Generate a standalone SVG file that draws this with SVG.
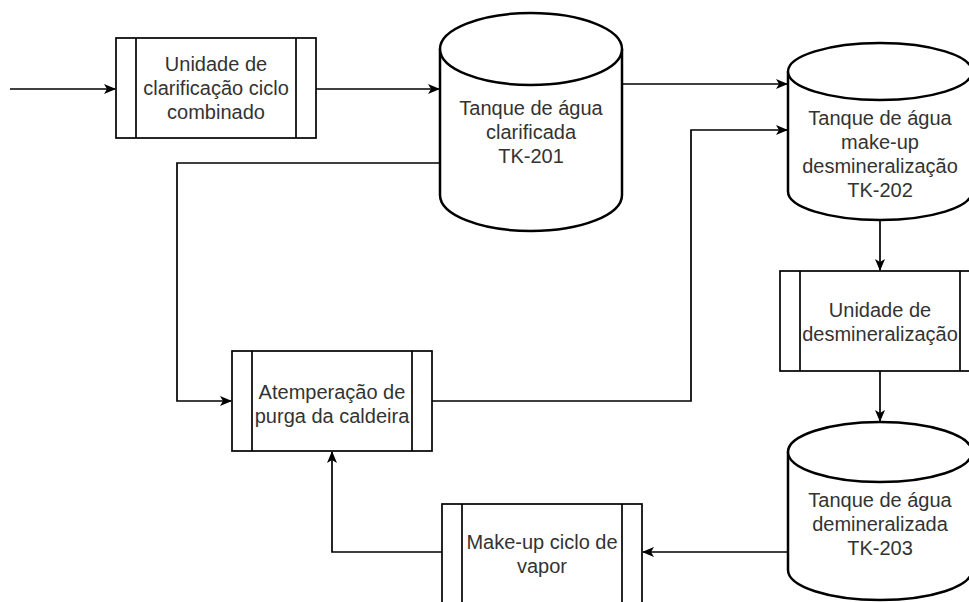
<svg xmlns="http://www.w3.org/2000/svg" width="969" height="602" viewBox="0 0 969 602">
<style>
.box{fill:#fff;stroke:#000;stroke-width:1.7}
.tank{fill:#fff;stroke:#000;stroke-width:2.5}
.t{font-family:"Liberation Sans",Arial,sans-serif;font-size:20px;fill:#333;text-anchor:middle}
.c{fill:none;stroke:#000;stroke-width:1.7;marker-end:url(#arr)}
</style>
<defs>
<marker id="arr" viewBox="0 0 12 12" refX="11" refY="6" markerWidth="12" markerHeight="12" markerUnits="userSpaceOnUse" orient="auto">
<path d="M0,1 L12,6 L0,11 L3,6 Z" fill="#000"/>
</marker>
</defs>
<rect width="969" height="602" fill="#fff"/>
<g id="connectors">
<path class="c" d="M10,89 H115"/>
<path class="c" d="M316,89 H439"/>
<path class="c" d="M622,84 H787"/>
<path class="c" d="M440,163 H177 V401 H231"/>
<path class="c" d="M432,401 H691 V130 H787"/>
<path class="c" d="M880,220 V270"/>
<path class="c" d="M880,371 V421"/>
<path class="c" d="M788,552 H643"/>
<path class="c" d="M442,552 H332 V452"/>
</g>
<g id="unidade-clarificacao">
<rect class="box" x="116" y="38" width="200" height="100"/>
<line class="box" x1="136" y1="38" x2="136" y2="138"/>
<line class="box" x1="296" y1="38" x2="296" y2="138"/>
<text class="t" x="216" y="71">Unidade de</text>
<text class="t" x="216" y="95">clarificação ciclo</text>
<text class="t" x="216" y="119">combinado</text>
</g>
<g id="tk201">
<path class="tank" d="M440,49 V195 A91,36 0 0 0 622,195 V49"/>
<path class="tank" d="M440,49 A91,36 0 0 1 622,49 A91,36 0 0 1 440,49 Z"/>
<text class="t" x="531" y="115">Tanque de água</text>
<text class="t" x="531" y="139">clarificada</text>
<text class="t" x="531" y="163">TK-201</text>
</g>
<g id="tk202">
<path class="tank" d="M788,71.5 V191.5 A92,28.5 0 0 0 972,191.5 V71.5"/>
<path class="tank" d="M788,71.5 A92,28.5 0 0 1 972,71.5 A92,28.5 0 0 1 788,71.5 Z"/>
<text class="t" x="880" y="125">Tanque de água</text>
<text class="t" x="880" y="149">make-up</text>
<text class="t" x="880" y="173">desmineralização</text>
<text class="t" x="880" y="197">TK-202</text>
</g>
<g id="unidade-desmineralizacao">
<rect class="box" x="780" y="271" width="200" height="100"/>
<line class="box" x1="800" y1="271" x2="800" y2="371"/>
<line class="box" x1="960" y1="271" x2="960" y2="371"/>
<text class="t" x="880" y="317">Unidade de</text>
<text class="t" x="880" y="341">desmineralização</text>
</g>
<g id="tk203">
<path class="tank" d="M788,452 V570 A92,30 0 0 0 972,570 V452"/>
<path class="tank" d="M788,452 A92,30 0 0 1 972,452 A92,30 0 0 1 788,452 Z"/>
<text class="t" x="880" y="507">Tanque de água</text>
<text class="t" x="880" y="531">demineralizada</text>
<text class="t" x="880" y="555">TK-203</text>
</g>
<g id="atemperacao">
<rect class="box" x="232" y="351" width="200" height="100"/>
<line class="box" x1="252" y1="351" x2="252" y2="451"/>
<line class="box" x1="412" y1="351" x2="412" y2="451"/>
<text class="t" x="332" y="399">Atemperação de</text>
<text class="t" x="332" y="423">purga da caldeira</text>
</g>
<g id="makeup-vapor">
<rect class="box" x="442" y="504" width="200" height="100"/>
<line class="box" x1="462" y1="504" x2="462" y2="604"/>
<line class="box" x1="622" y1="504" x2="622" y2="604"/>
<text class="t" x="542" y="549">Make-up ciclo de</text>
<text class="t" x="542" y="573">vapor</text>
</g>
</svg>
